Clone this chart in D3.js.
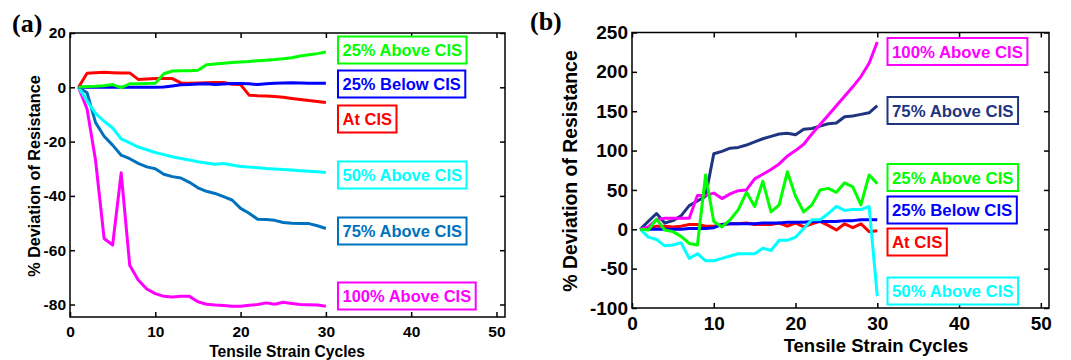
<!DOCTYPE html>
<html>
<head>
<meta charset="utf-8">
<script src="https://cdn.jsdelivr.net/npm/d3@7"></script>
<style>
  body { margin: 0; background: #fff; }
  svg { display: block; }
  text { font-family: "Liberation Sans", Arial, sans-serif; font-weight: bold; }
</style>
</head>
<body>
<svg id="fig" width="1071" height="360"></svg>
<script>
// Cycle numbers shared by every series
const cycles = [1,2,3,4,5,6,7,8,9,10,11,12,13,14,15,16,17,18,19,20,21,22,23,24,25,26,27,28,29,30];
const xTicks = [0,10,20,30,40,50];

// (a) % deviation of resistance
const aTicksY = [-80,-60,-40,-20,0,20];
const a25Above  = [0,0.3,0.4,0.6,1.0,-0.1,1.3,1.3,1.4,1.5,5.0,6.0,6.1,6.1,6.3,8.3,8.6,8.9,9.1,9.3,9.5,9.8,10.0,10.2,10.5,10.9,11.5,12.0,12.4,13.0];
const a25Below  = [0,0,0,0,0,0,0,0,0,0,0.1,0.5,0.9,1.0,1.2,1.3,1.0,1.2,1.4,1.4,1.3,1.0,1.3,1.5,1.6,1.7,1.6,1.5,1.5,1.5];
const aAtCIS    = [0,5.2,5.4,5.5,5.4,5.3,5.3,2.9,3.1,3.2,3.2,3.2,1.6,1.5,1.6,1.7,1.8,1.8,1.1,1.0,-2.9,-3.1,-3.2,-3.4,-3.7,-4.1,-4.5,-4.9,-5.2,-5.6];
const a50Above  = [0,-5,-9.6,-12.5,-15,-19,-20.5,-22,-23,-24,-24.8,-25.6,-26.2,-26.8,-27.4,-27.9,-28.3,-28.1,-28.6,-29.2,-29.4,-29.6,-29.9,-30.1,-30.3,-30.5,-30.7,-30.9,-31.1,-31.4];
const a75Above  = [0,-2,-13,-18,-21.3,-25,-26.3,-28,-29.3,-30,-32,-32.9,-33.4,-35,-37,-38.3,-39.1,-40.3,-41.5,-44.6,-46.4,-48.6,-48.7,-49,-49.8,-50.1,-50.2,-50.2,-51,-52];
const a100Above = [0,-8,-27,-55.7,-58.1,-31.5,-65.5,-71,-74.3,-76,-77,-77.2,-77,-77,-79,-79.9,-80.2,-80.4,-80.6,-80.6,-80.3,-80,-79.4,-79.9,-79.2,-79.6,-80,-80.1,-80.2,-80.6];

// (b) % deviation of resistance
const bTicksY = [-100,-50,0,50,100,150,200,250];
const b25Above  = [0,-1,13,-1,-3,-9,-18,-20,69,10,3,12,25,47,29,61,22,31,73,42,22,31,50,52,47,59,54,31,69,58];
const b25Below  = [0,0,0,0,0,0,1,1,1,2,6,7,7,7,7,8,8,8,9,9,9,10,10,10,10,11,11,12,12,12];
const bAtCIS    = [0,1,4,4,3,4,6,6,4,4,6,7,7,8,6,6,6,8,4,8,3,7,10,5,-1,7,2,7,-3,-2];
const b50Above  = [0,-10,-13,-21,-20,-17,-37,-31,-40,-40,-37,-34,-31,-31,-31,-24,-27,-14,-14,-10,1,12,12,20,29,24,25,25,29,-85];
const b75Above  = [0,10,20,8,11,17,30,36,42,96,99,103,104,107,111,115,118,121,122,120,127,128,131,134,135,143,144,146,148,157];
const b100Above = [0,3,12,14,14,14,14,43,43,46,39,45,49,50,64,70,76,83,93,100,108,121,133,145,157,169,181,194,211,238];

const svg = d3.select("#fig");
svg.append("rect").attr("width", 1071).attr("height", 360).attr("fill", "#fff");

const panels = [
  {
    tag: "(a)", tagX: 12, tagY: 32,
    left: 70, right: 505, top: 33, bottom: 317,
    xDomain: [0, 51], yDomain: [-84.6, 20], yTicks: aTicksY,
    tickFont: 15.5, xPad: 9, yPad: 4,
    xTitleX: 287, xTitleY: 357, xTitleFont: 15.6,
    yTitleX: 34, yTitleY: 176, yTitleFont: 16.2,
    boxLeft: 338, labelFont: 16.5,
    series: [
      { values: a100Above, color: "#ff00ff", label: "100% Above CIS", labelY: 296 },
      { values: a75Above,  color: "#0072bd", label: "75% Above CIS",  labelY: 231 },
      { values: a50Above,  color: "#00ffff", label: "50% Above CIS",  labelY: 175 },
      { values: aAtCIS,    color: "#ff0000", label: "At CIS",         labelY: 119 },
      { values: a25Below,  color: "#0000ff", label: "25% Below CIS",  labelY: 84 },
      { values: a25Above,  color: "#00ff00", label: "25% Above CIS",  labelY: 50 }
    ]
  },
  {
    tag: "(b)", tagX: 530, tagY: 30,
    left: 632, right: 1049, top: 32.5, bottom: 308,
    xDomain: [0, 51], yDomain: [-100, 250], yTicks: bTicksY,
    tickFont: 19, xPad: 9, yPad: 4,
    xTitleX: 876, xTitleY: 352, xTitleFont: 18.5,
    yTitleX: 570, yTitleY: 171, yTitleFont: 19.4,
    boxLeft: 887.5, labelFont: 16.8,
    series: [
      { values: bAtCIS,    color: "#ff0000", label: "At CIS",         labelY: 242 },
      { values: b25Below,  color: "#0000ff", label: "25% Below CIS",  labelY: 210 },
      { values: b50Above,  color: "#00ffff", label: "50% Above CIS",  labelY: 291 },
      { values: b75Above,  color: "#1f3580", label: "75% Above CIS",  labelY: 110.5 },
      { values: b100Above, color: "#ff00ff", label: "100% Above CIS", labelY: 51.5 },
      { values: b25Above,  color: "#00ff00", label: "25% Above CIS",  labelY: 177.5 }
    ]
  }
];

function styleAxis(sel, font) {
  sel.select(".domain").remove();
  sel.selectAll(".tick line").attr("stroke", "#000").attr("stroke-width", 1.5);
  sel.selectAll(".tick text")
    .attr("fill", "#000")
    .style("font-size", font + "px")
    .style("font-weight", "bold")
    .style("font-family", '"Liberation Sans", Arial, sans-serif');
}

function drawPanel(p) {
  const g = svg.append("g");
  const x = d3.scaleLinear().domain(p.xDomain).range([p.left, p.right]);
  const y = d3.scaleLinear().domain(p.yDomain).range([p.bottom, p.top]);
  const fmt = d => String(d);

  // axes with inward ticks on all four sides
  g.append("g").attr("transform", `translate(0,${p.bottom})`)
    .call(d3.axisBottom(x).tickValues(xTicks).tickFormat(fmt).tickSizeInner(-5).tickSizeOuter(0).tickPadding(p.xPad))
    .call(s => styleAxis(s, p.tickFont));
  g.append("g").attr("transform", `translate(0,${p.top})`)
    .call(d3.axisTop(x).tickValues(xTicks).tickFormat("").tickSizeInner(-5).tickSizeOuter(0))
    .call(s => styleAxis(s, p.tickFont));
  g.append("g").attr("transform", `translate(${p.left},0)`)
    .call(d3.axisLeft(y).tickValues(p.yTicks).tickFormat(fmt).tickSizeInner(-5).tickSizeOuter(0).tickPadding(p.yPad))
    .call(s => styleAxis(s, p.tickFont));
  g.append("g").attr("transform", `translate(${p.right},0)`)
    .call(d3.axisRight(y).tickValues(p.yTicks).tickFormat("").tickSizeInner(-5).tickSizeOuter(0))
    .call(s => styleAxis(s, p.tickFont));

  // series lines
  const line = d3.line().x((d, i) => x(cycles[i])).y(d => y(d));
  p.series.forEach(s => {
    g.append("path").datum(s.values)
      .attr("d", line)
      .attr("fill", "none")
      .attr("stroke", s.color)
      .attr("stroke-width", 3)
      .attr("stroke-linejoin", "round");
  });

  // plot frame
  g.append("rect")
    .attr("x", p.left).attr("y", p.top)
    .attr("width", p.right - p.left).attr("height", p.bottom - p.top)
    .attr("fill", "none").attr("stroke", "#000").attr("stroke-width", 1.5);

  // boxed series labels
  const pad = 4.5, boxH = 27;
  p.series.forEach(s => {
    const lg = g.append("g");
    const box = lg.append("rect")
      .attr("x", p.boxLeft).attr("y", s.labelY - boxH / 2)
      .attr("height", boxH)
      .attr("fill", "#fff").attr("stroke", s.color).attr("stroke-width", 2);
    const t = lg.append("text")
      .attr("x", p.boxLeft + pad).attr("y", s.labelY).attr("dy", "0.36em")
      .attr("fill", s.color)
      .style("font-size", p.labelFont + "px")
      .text(s.label);
    box.attr("width", t.node().getComputedTextLength() + 2 * pad);
  });

  // axis titles
  g.append("text")
    .attr("x", p.xTitleX).attr("y", p.xTitleY)
    .attr("text-anchor", "middle").attr("fill", "#000")
    .style("font-size", p.xTitleFont + "px")
    .text("Tensile Strain Cycles");
  g.append("text")
    .attr("transform", `translate(${p.yTitleX},${p.yTitleY}) rotate(-90)`)
    .attr("text-anchor", "middle").attr("dy", "0.36em").attr("fill", "#000")
    .style("font-size", p.yTitleFont + "px")
    .text("% Deviation of Resistance");

  // panel tag
  g.append("text")
    .attr("x", p.tagX).attr("y", p.tagY).attr("fill", "#000")
    .style("font-family", '"Liberation Serif", "Times New Roman", serif')
    .style("font-size", "26px")
    .text(p.tag);
}

panels.forEach(drawPanel);
</script>
</body>
</html>
